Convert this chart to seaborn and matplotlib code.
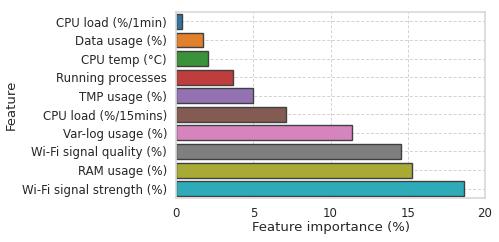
import matplotlib
matplotlib.use("Agg")
import matplotlib.pyplot as plt
import seaborn as sns
import pandas as pd

features = ["CPU load (%/1min)", "Data usage (%)", "CPU temp (°C)", "Running processes",
            "TMP usage (%)", "CPU load (%/15mins)", "Var-log usage (%)",
            "Wi-Fi signal quality (%)", "RAM usage (%)", "Wi-Fi signal strength (%)"]
importance = [0.41, 1.75, 2.05, 3.65, 4.98, 7.14, 11.37, 14.54, 15.3, 18.64]

sns.set_theme(style="whitegrid")
plt.rcParams["font.family"] = ["DejaVu Sans"]

df = pd.DataFrame({"Feature": features, "Feature importance (%)": importance})

fig, ax = plt.subplots(figsize=(4.99, 2.42), dpi=100)
sns.barplot(data=df, y="Feature", x="Feature importance (%)", hue="Feature",
            palette="tab10", legend=False, edgecolor="0.25", linewidth=1, ax=ax)
ax.set_xlim(0, 20)
ax.set_xticks([0, 5, 10, 15, 20])
ax.tick_params(axis="x", labelsize=8.5, length=0, pad=6.5)
ax.tick_params(axis="y", labelsize=8.5, length=0, pad=6.5)
ax.grid(True, axis="both", linestyle=(0, (3, 2)), linewidth=0.7, color="0.82")
ax.set_axisbelow(True)
ax.set_xlabel("Feature importance (%)", fontsize=9.5, labelpad=0.5)
ax.set_ylabel("Feature", fontsize=9.5, labelpad=3)
for s in ax.spines.values():
    s.set_color("0.85")
fig.subplots_adjust(left=0.353, right=0.972, top=0.95, bottom=0.182)
fig.savefig("out.png", dpi=100)
